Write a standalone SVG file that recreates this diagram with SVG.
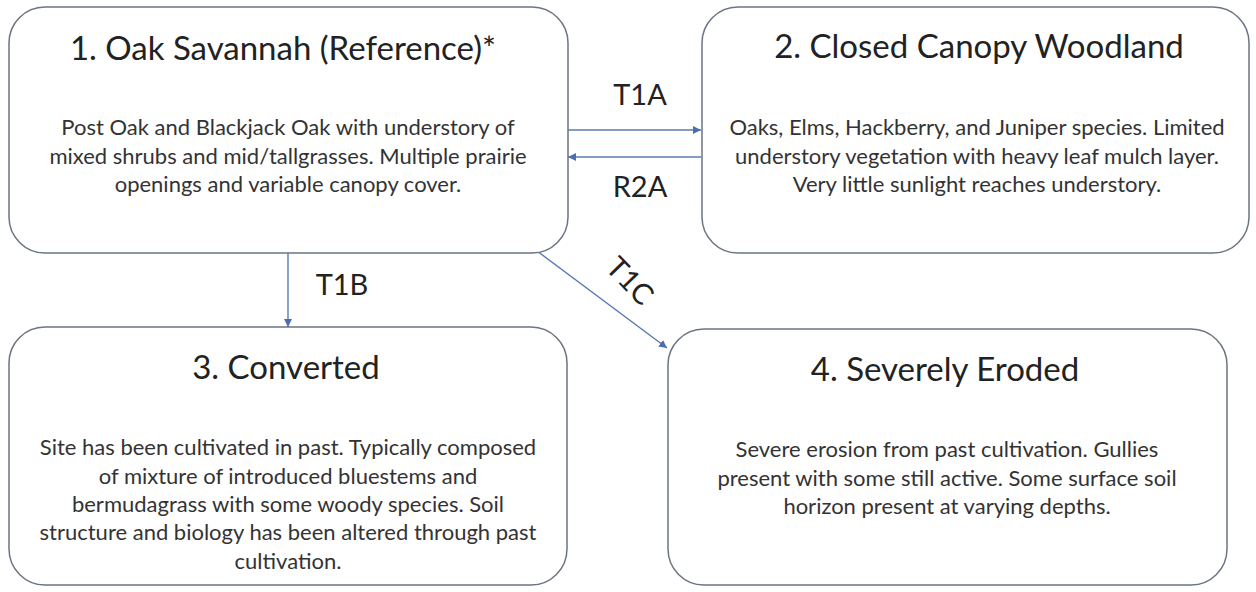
<svg xmlns="http://www.w3.org/2000/svg" width="1256" height="592" viewBox="0 0 1256 592">
<defs>
<style>
.box{fill:#ffffff;stroke:#6b7480;stroke-width:1.5}
.title{font-family:Lato,"Liberation Sans",sans-serif;font-size:33px;fill:#222222;text-anchor:middle}
.body{font-family:Lato,"Liberation Sans",sans-serif;font-size:22px;fill:#333333;text-anchor:middle}
.lbl{font-family:Lato,"Liberation Sans",sans-serif;font-size:29px;fill:#222222;text-anchor:middle}
.conn{stroke:#5a7bb0;stroke-width:1.4;fill:none;marker-end:url(#ah)}
</style>
<marker id="ah" viewBox="0 0 10 10" refX="10" refY="5" markerWidth="8" markerHeight="8" markerUnits="userSpaceOnUse" orient="auto">
<path d="M0,0 L10,5 L0,10 Z" fill="#4a6fb0"/>
</marker>
</defs>
<rect width="1256" height="592" fill="#ffffff"/>
<g id="connectors">
<line class="conn" x1="568" y1="130" x2="701" y2="130"/>
<line class="conn" x1="701" y1="157" x2="568" y2="157"/>
<line class="conn" x1="288" y1="253" x2="288" y2="327"/>
<line class="conn" x1="537" y1="251" x2="667" y2="348"/>
<text class="lbl" x="640" y="105">T1A</text>
<text class="lbl" x="640" y="197">R2A</text>
<text class="lbl" x="342" y="295">T1B</text>
<text class="lbl" transform="translate(630,281) rotate(46)" x="0" y="10">T1C</text>
</g>
<g id="node1">
<rect class="box" x="9" y="7" width="559" height="246" rx="36"/>
<text class="title" x="283" y="60">1. Oak Savannah (Reference)*</text>
<text class="body" x="288" y="135">Post Oak and Blackjack Oak with understory of</text>
<text class="body" x="288" y="164">mixed shrubs and mid/tallgrasses. Multiple prairie</text>
<text class="body" x="288" y="192">openings and variable canopy cover.</text>
</g>
<g id="node2">
<rect class="box" x="702" y="7" width="547" height="246" rx="36"/>
<text class="title" x="979" y="58">2. Closed Canopy Woodland</text>
<text class="body" x="977" y="135">Oaks, Elms, Hackberry, and Juniper species. Limited</text>
<text class="body" x="977" y="164">understory vegetation with heavy leaf mulch layer.</text>
<text class="body" x="977" y="192">Very little sunlight reaches understory.</text>
</g>
<g id="node3">
<rect class="box" x="9" y="327" width="558" height="258" rx="36"/>
<text class="title" x="286" y="379">3. Converted</text>
<text class="body" x="288" y="455">Site has been cultivated in past. Typically composed</text>
<text class="body" x="288" y="484">of mixture of introduced bluestems and</text>
<text class="body" x="288" y="512">bermudagrass with some woody species. Soil</text>
<text class="body" x="288" y="540">structure and biology has been altered through past</text>
<text class="body" x="288" y="569">cultivation.</text>
</g>
<g id="node4">
<rect class="box" x="668" y="329" width="559" height="256" rx="36"/>
<text class="title" x="945" y="381">4. Severely Eroded</text>
<text class="body" x="947" y="457">Severe erosion from past cultivation. Gullies</text>
<text class="body" x="947" y="486">present with some still active. Some surface soil</text>
<text class="body" x="947" y="514">horizon present at varying depths.</text>
</g>
</svg>
